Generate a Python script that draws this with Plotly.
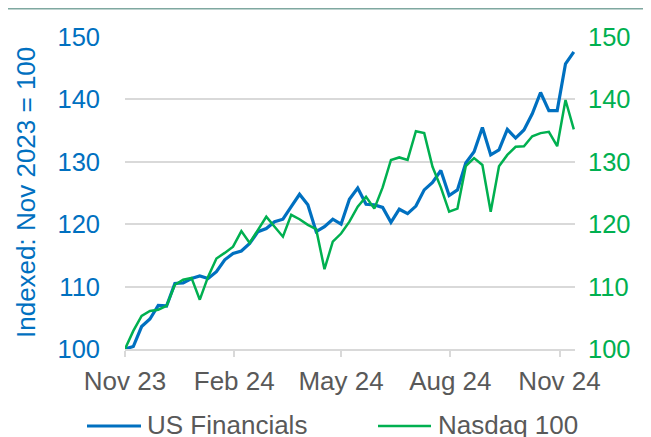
import pandas as pd
import plotly.graph_objects as go

start_date = "2023-11-01"
n_weeks = 55
dates = pd.date_range(start_date, periods=n_weeks, freq="7D")

us_financials = [100, 100.4, 103.6, 104.8, 107.0, 106.9, 110.5, 110.6, 111.3, 111.7,
                 111.3, 112.4, 114.3, 115.3, 115.7, 116.9, 118.8, 119.3, 120.4, 120.8,
                 122.8, 124.8, 123.1, 118.8, 119.6, 120.8, 120.0, 124.0, 125.8, 123.2,
                 123.1, 122.7, 120.3, 122.4, 121.7, 122.9, 125.5, 126.7, 128.6, 124.6,
                 125.5, 129.8, 131.6, 135.5, 131.1, 131.9, 135.2, 133.8, 135.1, 137.7,
                 141.1, 138.2, 138.2, 145.7, 147.6]
nasdaq_100 = [100, 102.9, 105.3, 106.1, 106.3, 106.9, 110.3, 111.1, 111.4, 107.9,
              111.6, 114.5, 115.4, 116.4, 118.9, 117.0, 119.1, 121.2, 119.6, 118.0,
              121.5, 120.8, 119.9, 119.2, 112.8, 117.2, 118.5, 120.4, 122.8, 124.4,
              122.5, 125.9, 130.3, 130.7, 130.3, 134.9, 134.6, 129.2, 125.9, 122.0,
              122.5, 129.3, 130.6, 129.5, 122.0, 129.3, 131.1, 132.4, 132.5, 134.1,
              134.6, 134.8, 132.5, 139.9, 135.2]

tick_vals = ["2023-11-01", "2024-02-01", "2024-05-01", "2024-08-01", "2024-11-01"]
tick_text = ["Nov 23", "Feb 24", "May 24", "Aug 24", "Nov 24"]
y_ticks = [100, 110, 120, 130, 140, 150]
series_names = ["US Financials", "Nasdaq 100"]

BLUE = "#0070C0"
GREEN = "#00B050"
GRAY = "#595959"
GRID = "#D9D9D9"
FONT = "Liberation Sans, Arial, sans-serif"

# page is 651x437; the page body has an 8px margin, so the figure is offset by 8px
PAGE_W, PAGE_H, OFF = 651, 437, 8
W, H = PAGE_W - OFF, PAGE_H - OFF
# plot area in page pixels
PX0, PX1, PY0, PY1 = 125, 575, 37, 349
L, R, T, B = PX0 - OFF, PAGE_W - PX1, PY0 - OFF, PAGE_H - PY1


def px_x(p):
    return (p - PX0) / (PX1 - PX0)


def px_y(p):
    return (PY1 - p) / (PY1 - PY0)


fig = go.Figure()
fig.add_trace(go.Scatter(x=dates, y=us_financials, name=series_names[0], mode="lines",
                         line=dict(color=BLUE, width=3.2), yaxis="y"))
fig.add_trace(go.Scatter(x=dates, y=nasdaq_100, name=series_names[1], mode="lines",
                         line=dict(color=GREEN, width=2.5), yaxis="y2"))

fig.update_layout(
    width=W, height=H,
    margin=dict(l=L, r=R, t=T, b=B, pad=0, autoexpand=False),
    paper_bgcolor="white", plot_bgcolor="white",
    showlegend=False,
    font=dict(family=FONT, size=26, color=GRAY),
    xaxis=dict(
        type="date",
        range=["2023-11-01", "2024-11-14"],
        tickvals=tick_vals, ticktext=tick_text,
        ticks="outside", ticklen=6, tickcolor=GRID, tickwidth=1.5,
        showgrid=False, showline=True, linecolor=GRID, linewidth=1.5,
        zeroline=False,
        tickfont=dict(size=26, color=GRAY),
        ticklabelstandoff=2,
        automargin=False,
    ),
    yaxis=dict(
        range=[100, 150], tickvals=y_ticks,
        showgrid=True, gridcolor=GRID, gridwidth=1.8,
        zeroline=False, showline=False, ticks="",
        tickfont=dict(size=25.5, color=BLUE),
        ticklabelstandoff=24,
        automargin=False,
    ),
    yaxis2=dict(
        range=[100, 150], tickvals=y_ticks, overlaying="y", side="right",
        showgrid=False, zeroline=False, showline=False, ticks="",
        tickfont=dict(size=25.5, color=GREEN),
        ticklabelstandoff=12,
        automargin=False,
    ),
)

annotations = [
    dict(text="Indexed: Nov 2023 = 100", textangle=-90, xref="paper", yref="paper",
         x=px_x(26), y=0.5, xanchor="center", yanchor="middle", showarrow=False,
         font=dict(size=26, color=BLUE, family=FONT)),
    dict(text=series_names[0], xref="paper", yref="paper", x=px_x(145), y=px_y(425),
         xanchor="left", yanchor="middle", showarrow=False,
         font=dict(size=26, color=GRAY, family=FONT)),
    dict(text=series_names[1], xref="paper", yref="paper", x=px_x(436), y=px_y(425),
         xanchor="left", yanchor="middle", showarrow=False,
         font=dict(size=26, color=GRAY, family=FONT)),
]
shapes = [
    dict(type="line", xref="paper", yref="paper", x0=px_x(87), x1=px_x(141),
         y0=px_y(426), y1=px_y(426), line=dict(color=BLUE, width=3.2)),
    dict(type="line", xref="paper", yref="paper", x0=px_x(378), x1=px_x(431),
         y0=px_y(426), y1=px_y(426), line=dict(color=GREEN, width=2.5)),
    dict(type="line", xref="paper", yref="paper", x0=px_x(OFF), x1=px_x(PAGE_W),
         y0=px_y(OFF + 0.8), y1=px_y(OFF + 0.8), line=dict(color="#7FA8A0", width=1.6)),
]
fig.update_layout(annotations=annotations, shapes=shapes)

fig.write_html("out.html")
